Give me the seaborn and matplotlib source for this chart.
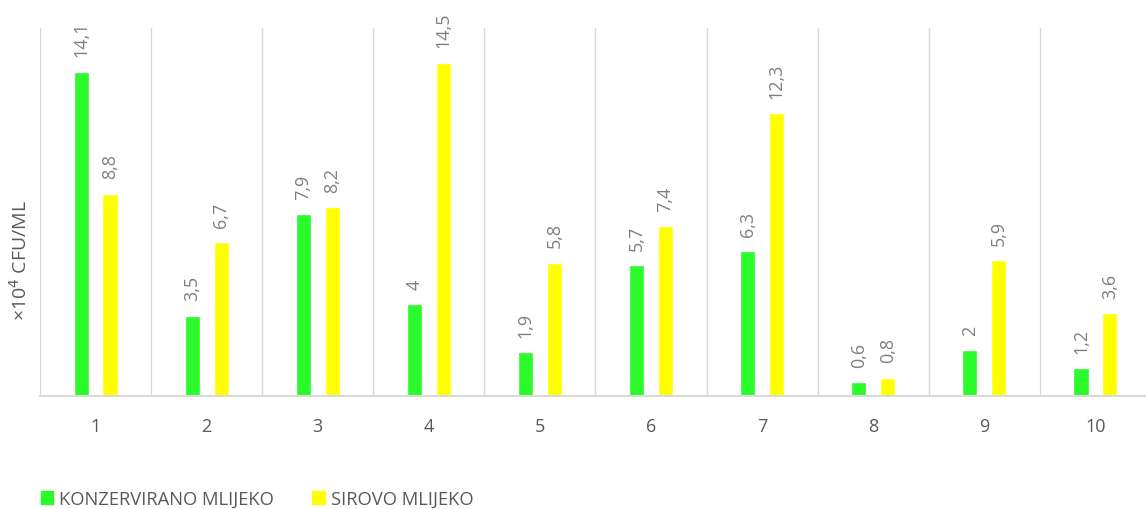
import pandas as pd
import matplotlib
matplotlib.use("Agg")
import matplotlib.pyplot as plt
import seaborn as sns

# data
uzorci = ['1', '2', '3', '4', '5', '6', '7', '8', '9', '10']
konzervirano = [14.1, 3.5, 7.9, 4.0, 1.9, 5.7, 6.3, 0.6, 2.0, 1.2]
sirovo = [8.8, 6.7, 8.2, 14.5, 5.8, 7.4, 12.3, 0.8, 5.9, 3.6]
serije = ['KONZERVIRANO MLIJEKO', 'SIROVO MLIJEKO']
boje = ['#2bfa2b', '#ffff00']

df = pd.DataFrame({
    'uzorak': uzorci * 2,
    'vrijednost': konzervirano + sirovo,
    'serija': [serije[0]] * len(uzorci) + [serije[1]] * len(uzorci),
})

sns.set_style("white")
plt.rcParams['font.family'] = ['Open Sans', 'DejaVu Sans']

fig = plt.figure(figsize=(11.46, 5.1), dpi=100)
ax = fig.add_axes([40 / 1146, 1 - 397 / 510, 1111 / 1146, 368 / 510])

sns.barplot(data=df, x='uzorak', y='vrijednost', hue='serija', palette=boje,
            width=0.52, gap=0.48, ax=ax, legend=False, saturation=1)

for cont in ax.containers:
    labels = [f"{v:g}".replace('.', ',') for v in cont.datavalues]
    ax.bar_label(cont, labels=labels, rotation=90, padding=11,
                 color='#7f7f7f', fontsize=13)

ax.set_ylim(0, 16)
ax.set_xlim(-0.5, 9.5)
ax.set_yticks([])
ax.set_xlabel('')
ax.set_ylabel('')
ax.set_xticks([i - 0.5 for i in range(11)], minor=True)
ax.grid(True, which='minor', axis='x', color='#d9d9d9', lw=1)
ax.tick_params(axis='x', which='both', length=0, labelsize=13,
               labelcolor='#595959', pad=15)
for s in ['top', 'right', 'left']:
    ax.spines[s].set_visible(False)
ax.spines['bottom'].set_color('#d9d9d9')
ax.spines['bottom'].set_linewidth(1.5)

fig.text(20 / 1146, 1 - 261 / 510, '×10$^4$ CFU/ML', rotation=90,
         ha='center', va='center', color='#595959', fontsize=14)

handles = [plt.Rectangle((0, 0), 1, 1, color=c) for c in boje]
fig.legend(handles, serije, loc='center left', ncol=2, frameon=False,
           bbox_to_anchor=(24 / 1146, 1 - 500 / 510), fontsize=13.2,
           handlelength=0.7, handleheight=0.7, handletextpad=0.3,
           columnspacing=2.1, labelcolor='#595959')

fig.savefig('out.png', dpi=100)
